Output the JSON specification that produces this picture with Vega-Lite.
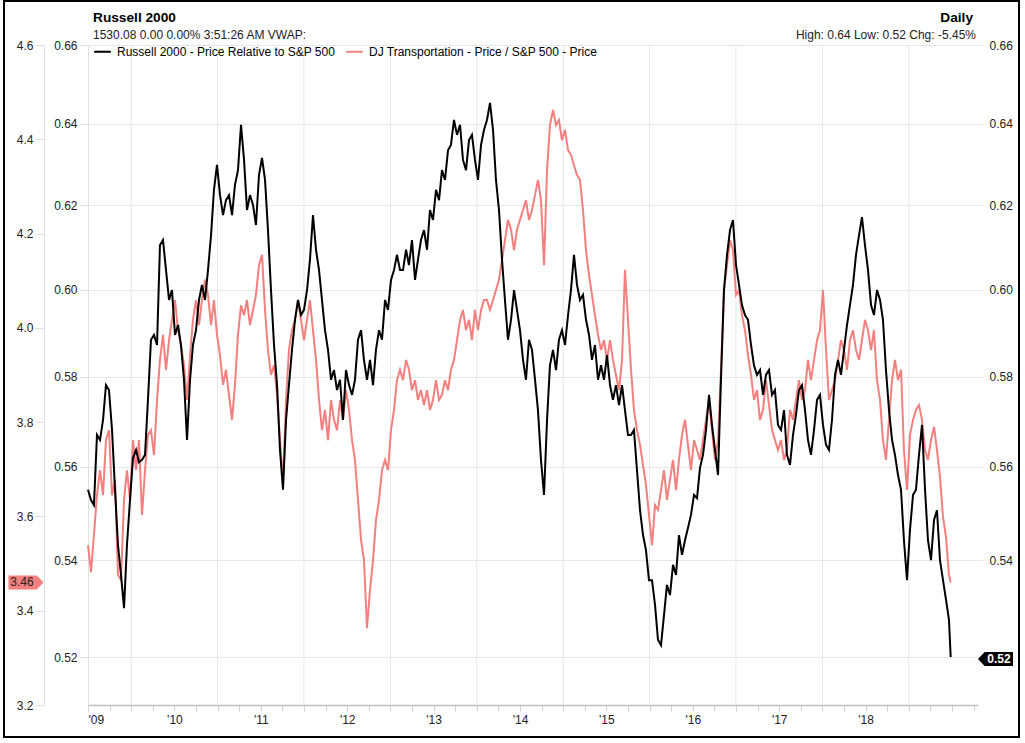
{
"$schema":"https://vega.github.io/schema/vega-lite/v6.json",
"width":890,"height":660,"autosize":"none",
"padding":{"left":88,"top":45,"right":47,"bottom":38},
"background":"white",
"config":{"view":{"stroke":null},"font":"Liberation Sans"},
"datasets":{"d":[
{"t":2009.000,"r":0.5550,"p":3.539},{"t":2009.035,"r":0.5528,"p":3.482},{"t":2009.069,"r":0.5517,"p":3.561},{"t":2009.104,"r":0.5670,"p":3.645},{"t":2009.139,"r":0.5659,"p":3.698},{"t":2009.174,"r":0.5703,"p":3.645},{"t":2009.208,"r":0.5781,"p":3.762},{"t":2009.243,"r":0.5770,"p":3.783},{"t":2009.278,"r":0.5681,"p":3.645},{"t":2009.313,"r":0.5550,"p":3.677},
{"t":2009.347,"r":0.5432,"p":3.476},{"t":2009.382,"r":0.5369,"p":3.465},{"t":2009.417,"r":0.5300,"p":3.635},{"t":2009.451,"r":0.5432,"p":3.698},{"t":2009.486,"r":0.5528,"p":3.635},{"t":2009.521,"r":0.5619,"p":3.762},{"t":2009.556,"r":0.5637,"p":3.698},{"t":2009.590,"r":0.5610,"p":3.762},{"t":2009.625,"r":0.5615,"p":3.603},{"t":2009.660,"r":0.5626,"p":3.698},
{"t":2009.694,"r":0.5748,"p":3.773},{"t":2009.729,"r":0.5884,"p":3.783},{"t":2009.764,"r":0.5895,"p":3.730},{"t":2009.799,"r":0.5872,"p":3.847},{"t":2009.833,"r":0.6105,"p":3.932},{"t":2009.868,"r":0.6117,"p":3.985},{"t":2009.903,"r":0.6046,"p":3.911},{"t":2009.938,"r":0.5976,"p":3.974},{"t":2009.972,"r":0.5999,"p":4.017},{"t":2010.007,"r":0.5895,"p":4.059},
{"t":2010.042,"r":0.5918,"p":3.995},{"t":2010.076,"r":0.5872,"p":3.964},{"t":2010.111,"r":0.5793,"p":3.921},{"t":2010.146,"r":0.5659,"p":3.847},{"t":2010.181,"r":0.5793,"p":3.942},{"t":2010.215,"r":0.5872,"p":4.017},{"t":2010.250,"r":0.5906,"p":4.059},{"t":2010.285,"r":0.5976,"p":4.006},{"t":2010.319,"r":0.6011,"p":4.059},{"t":2010.354,"r":0.5976,"p":4.102},
{"t":2010.389,"r":0.6046,"p":4.070},{"t":2010.424,"r":0.6129,"p":4.006},{"t":2010.458,"r":0.6238,"p":4.059},{"t":2010.493,"r":0.6299,"p":3.985},{"t":2010.528,"r":0.6225,"p":3.942},{"t":2010.563,"r":0.6177,"p":3.879},{"t":2010.597,"r":0.6213,"p":3.911},{"t":2010.632,"r":0.6225,"p":3.858},{"t":2010.667,"r":0.6177,"p":3.805},{"t":2010.701,"r":0.6250,"p":3.879},
{"t":2010.736,"r":0.6286,"p":3.985},{"t":2010.771,"r":0.6398,"p":4.048},{"t":2010.806,"r":0.6311,"p":4.027},{"t":2010.840,"r":0.6189,"p":4.059},{"t":2010.875,"r":0.6225,"p":4.006},{"t":2010.910,"r":0.6201,"p":4.038},{"t":2010.944,"r":0.6153,"p":4.070},{"t":2010.979,"r":0.6274,"p":4.133},{"t":2011.014,"r":0.6316,"p":4.155},{"t":2011.049,"r":0.6262,"p":4.038},
{"t":2011.083,"r":0.6141,"p":3.953},{"t":2011.118,"r":0.5999,"p":3.900},{"t":2011.153,"r":0.5872,"p":3.921},{"t":2011.188,"r":0.5781,"p":3.858},{"t":2011.222,"r":0.5637,"p":3.762},{"t":2011.257,"r":0.5550,"p":3.673},{"t":2011.292,"r":0.5703,"p":3.847},{"t":2011.326,"r":0.5781,"p":3.953},{"t":2011.361,"r":0.5861,"p":3.995},{"t":2011.396,"r":0.5930,"p":4.017},
{"t":2011.431,"r":0.5976,"p":4.059},{"t":2011.465,"r":0.5941,"p":4.017},{"t":2011.500,"r":0.5953,"p":3.974},{"t":2011.535,"r":0.5999,"p":4.017},{"t":2011.569,"r":0.6070,"p":4.059},{"t":2011.604,"r":0.6177,"p":3.995},{"t":2011.639,"r":0.6094,"p":3.932},{"t":2011.674,"r":0.6046,"p":3.847},{"t":2011.708,"r":0.5976,"p":3.783},{"t":2011.743,"r":0.5906,"p":3.826},
{"t":2011.778,"r":0.5861,"p":3.762},{"t":2011.813,"r":0.5793,"p":3.847},{"t":2011.847,"r":0.5815,"p":3.805},{"t":2011.882,"r":0.5770,"p":3.783},{"t":2011.917,"r":0.5793,"p":3.847},{"t":2011.951,"r":0.5703,"p":3.805},{"t":2011.986,"r":0.5815,"p":3.868},{"t":2012.021,"r":0.5781,"p":3.826},{"t":2012.056,"r":0.5759,"p":3.762},{"t":2012.090,"r":0.5793,"p":3.720},
{"t":2012.125,"r":0.5884,"p":3.635},{"t":2012.160,"r":0.5906,"p":3.550},{"t":2012.194,"r":0.5838,"p":3.508},{"t":2012.229,"r":0.5793,"p":3.363},{"t":2012.264,"r":0.5838,"p":3.444},{"t":2012.299,"r":0.5781,"p":3.508},{"t":2012.333,"r":0.5861,"p":3.592},{"t":2012.368,"r":0.5906,"p":3.635},{"t":2012.403,"r":0.5884,"p":3.698},{"t":2012.438,"r":0.5976,"p":3.720},
{"t":2012.472,"r":0.5953,"p":3.698},{"t":2012.507,"r":0.6023,"p":3.783},{"t":2012.542,"r":0.6046,"p":3.826},{"t":2012.576,"r":0.6082,"p":3.889},{"t":2012.611,"r":0.6046,"p":3.911},{"t":2012.646,"r":0.6046,"p":3.889},{"t":2012.681,"r":0.6094,"p":3.932},{"t":2012.715,"r":0.6058,"p":3.911},{"t":2012.750,"r":0.6117,"p":3.868},{"t":2012.785,"r":0.6023,"p":3.889},
{"t":2012.819,"r":0.6070,"p":3.847},{"t":2012.854,"r":0.6117,"p":3.868},{"t":2012.889,"r":0.6141,"p":3.836},{"t":2012.924,"r":0.6094,"p":3.868},{"t":2012.958,"r":0.6189,"p":3.826},{"t":2012.993,"r":0.6165,"p":3.847},{"t":2013.028,"r":0.6238,"p":3.889},{"t":2013.063,"r":0.6213,"p":3.847},{"t":2013.097,"r":0.6286,"p":3.858},{"t":2013.132,"r":0.6262,"p":3.889},
{"t":2013.167,"r":0.6335,"p":3.868},{"t":2013.201,"r":0.6348,"p":3.911},{"t":2013.236,"r":0.6410,"p":3.932},{"t":2013.271,"r":0.6373,"p":3.974},{"t":2013.306,"r":0.6398,"p":4.017},{"t":2013.340,"r":0.6311,"p":4.038},{"t":2013.375,"r":0.6286,"p":3.995},{"t":2013.410,"r":0.6360,"p":4.017},{"t":2013.444,"r":0.6373,"p":3.974},{"t":2013.479,"r":0.6311,"p":4.038},
{"t":2013.514,"r":0.6262,"p":3.995},{"t":2013.549,"r":0.6348,"p":4.038},{"t":2013.583,"r":0.6385,"p":4.059},{"t":2013.618,"r":0.6410,"p":4.059},{"t":2013.653,"r":0.6453,"p":4.038},{"t":2013.688,"r":0.6385,"p":4.059},{"t":2013.722,"r":0.6262,"p":4.080},{"t":2013.757,"r":0.6189,"p":4.102},{"t":2013.792,"r":0.6070,"p":4.144},{"t":2013.826,"r":0.5976,"p":4.186},
{"t":2013.861,"r":0.5884,"p":4.229},{"t":2013.896,"r":0.5930,"p":4.208},{"t":2013.931,"r":0.5999,"p":4.165},{"t":2013.965,"r":0.5953,"p":4.208},{"t":2014.000,"r":0.5906,"p":4.229},{"t":2014.035,"r":0.5838,"p":4.250},{"t":2014.069,"r":0.5793,"p":4.271},{"t":2014.104,"r":0.5884,"p":4.229},{"t":2014.139,"r":0.5861,"p":4.250},{"t":2014.174,"r":0.5793,"p":4.282},
{"t":2014.208,"r":0.5725,"p":4.314},{"t":2014.243,"r":0.5615,"p":4.271},{"t":2014.278,"r":0.5539,"p":4.133},{"t":2014.313,"r":0.5703,"p":4.335},{"t":2014.347,"r":0.5826,"p":4.430},{"t":2014.382,"r":0.5861,"p":4.462},{"t":2014.417,"r":0.5815,"p":4.430},{"t":2014.451,"r":0.5884,"p":4.441},{"t":2014.486,"r":0.5906,"p":4.398},{"t":2014.521,"r":0.5872,"p":4.420},
{"t":2014.556,"r":0.5941,"p":4.377},{"t":2014.590,"r":0.5999,"p":4.367},{"t":2014.625,"r":0.6082,"p":4.345},{"t":2014.660,"r":0.6011,"p":4.324},{"t":2014.694,"r":0.5976,"p":4.314},{"t":2014.729,"r":0.5988,"p":4.250},{"t":2014.764,"r":0.5930,"p":4.165},{"t":2014.799,"r":0.5895,"p":4.112},{"t":2014.833,"r":0.5838,"p":4.070},{"t":2014.868,"r":0.5872,"p":4.027},
{"t":2014.903,"r":0.5793,"p":3.985},{"t":2014.938,"r":0.5826,"p":3.953},{"t":2014.972,"r":0.5793,"p":3.974},{"t":2015.007,"r":0.5849,"p":3.932},{"t":2015.042,"r":0.5781,"p":3.974},{"t":2015.076,"r":0.5748,"p":3.932},{"t":2015.111,"r":0.5781,"p":3.900},{"t":2015.146,"r":0.5736,"p":3.868},{"t":2015.181,"r":0.5781,"p":3.932},{"t":2015.215,"r":0.5725,"p":4.123},
{"t":2015.250,"r":0.5670,"p":4.017},{"t":2015.285,"r":0.5670,"p":3.911},{"t":2015.319,"r":0.5681,"p":3.826},{"t":2015.354,"r":0.5593,"p":3.783},{"t":2015.389,"r":0.5506,"p":3.752},{"t":2015.424,"r":0.5453,"p":3.709},{"t":2015.458,"r":0.5421,"p":3.667},{"t":2015.493,"r":0.5358,"p":3.603},{"t":2015.528,"r":0.5358,"p":3.539},{"t":2015.563,"r":0.5306,"p":3.624},
{"t":2015.597,"r":0.5235,"p":3.614},{"t":2015.632,"r":0.5224,"p":3.656},{"t":2015.667,"r":0.5286,"p":3.698},{"t":2015.701,"r":0.5348,"p":3.635},{"t":2015.736,"r":0.5327,"p":3.677},{"t":2015.771,"r":0.5390,"p":3.720},{"t":2015.806,"r":0.5369,"p":3.656},{"t":2015.840,"r":0.5453,"p":3.720},{"t":2015.875,"r":0.5411,"p":3.773},{"t":2015.910,"r":0.5442,"p":3.805},
{"t":2015.944,"r":0.5468,"p":3.752},{"t":2015.979,"r":0.5496,"p":3.698},{"t":2016.014,"r":0.5539,"p":3.762},{"t":2016.049,"r":0.5532,"p":3.741},{"t":2016.083,"r":0.5597,"p":3.720},{"t":2016.118,"r":0.5626,"p":3.762},{"t":2016.153,"r":0.5681,"p":3.805},{"t":2016.188,"r":0.5759,"p":3.847},{"t":2016.222,"r":0.5692,"p":3.783},{"t":2016.257,"r":0.5637,"p":3.720},
{"t":2016.292,"r":0.5582,"p":3.762},{"t":2016.326,"r":0.5793,"p":3.911},{"t":2016.361,"r":0.5999,"p":4.080},{"t":2016.396,"r":0.6082,"p":4.133},{"t":2016.431,"r":0.6141,"p":4.186},{"t":2016.465,"r":0.6165,"p":4.165},{"t":2016.500,"r":0.6058,"p":4.070},{"t":2016.535,"r":0.6011,"p":4.080},{"t":2016.569,"r":0.5964,"p":4.027},{"t":2016.604,"r":0.5941,"p":3.995},
{"t":2016.639,"r":0.5930,"p":3.942},{"t":2016.674,"r":0.5872,"p":3.900},{"t":2016.708,"r":0.5826,"p":3.847},{"t":2016.743,"r":0.5804,"p":3.868},{"t":2016.778,"r":0.5815,"p":3.805},{"t":2016.813,"r":0.5759,"p":3.826},{"t":2016.847,"r":0.5804,"p":3.889},{"t":2016.882,"r":0.5815,"p":3.836},{"t":2016.917,"r":0.5759,"p":3.783},{"t":2016.951,"r":0.5770,"p":3.762},
{"t":2016.986,"r":0.5692,"p":3.741},{"t":2017.021,"r":0.5681,"p":3.762},{"t":2017.056,"r":0.5725,"p":3.720},{"t":2017.090,"r":0.5626,"p":3.741},{"t":2017.125,"r":0.5604,"p":3.826},{"t":2017.160,"r":0.5670,"p":3.805},{"t":2017.194,"r":0.5714,"p":3.847},{"t":2017.229,"r":0.5770,"p":3.889},{"t":2017.264,"r":0.5781,"p":3.847},{"t":2017.299,"r":0.5725,"p":3.868},
{"t":2017.333,"r":0.5659,"p":3.932},{"t":2017.368,"r":0.5626,"p":3.889},{"t":2017.403,"r":0.5681,"p":3.932},{"t":2017.438,"r":0.5748,"p":3.974},{"t":2017.472,"r":0.5759,"p":3.995},{"t":2017.507,"r":0.5692,"p":4.080},{"t":2017.542,"r":0.5648,"p":3.953},{"t":2017.576,"r":0.5637,"p":3.847},{"t":2017.611,"r":0.5703,"p":3.868},{"t":2017.646,"r":0.5804,"p":3.889},
{"t":2017.681,"r":0.5838,"p":3.932},{"t":2017.715,"r":0.5804,"p":3.974},{"t":2017.750,"r":0.5861,"p":3.953},{"t":2017.785,"r":0.5918,"p":3.911},{"t":2017.819,"r":0.5964,"p":3.974},{"t":2017.854,"r":0.6011,"p":3.995},{"t":2017.889,"r":0.6082,"p":3.953},{"t":2017.924,"r":0.6129,"p":3.932},{"t":2017.958,"r":0.6172,"p":3.974},{"t":2017.993,"r":0.6105,"p":4.017},
{"t":2018.028,"r":0.6046,"p":3.995},{"t":2018.063,"r":0.5964,"p":3.953},{"t":2018.097,"r":0.5941,"p":3.995},{"t":2018.132,"r":0.5999,"p":3.889},{"t":2018.167,"r":0.5976,"p":3.847},{"t":2018.201,"r":0.5930,"p":3.762},{"t":2018.236,"r":0.5815,"p":3.720},{"t":2018.271,"r":0.5725,"p":3.805},{"t":2018.306,"r":0.5659,"p":3.889},{"t":2018.340,"r":0.5626,"p":3.932},
{"t":2018.375,"r":0.5582,"p":3.889},{"t":2018.410,"r":0.5550,"p":3.911},{"t":2018.444,"r":0.5442,"p":3.741},{"t":2018.479,"r":0.5358,"p":3.656},{"t":2018.514,"r":0.5464,"p":3.773},{"t":2018.549,"r":0.5539,"p":3.805},{"t":2018.583,"r":0.5550,"p":3.826},{"t":2018.618,"r":0.5626,"p":3.836},{"t":2018.653,"r":0.5692,"p":3.805},{"t":2018.688,"r":0.5550,"p":3.741},
{"t":2018.722,"r":0.5442,"p":3.720},{"t":2018.757,"r":0.5400,"p":3.762},{"t":2018.792,"r":0.5485,"p":3.790},{"t":2018.826,"r":0.5506,"p":3.741},{"t":2018.861,"r":0.5400,"p":3.684},{"t":2018.896,"r":0.5358,"p":3.599},{"t":2018.931,"r":0.5317,"p":3.556},{"t":2018.965,"r":0.5276,"p":3.476},{"t":2018.985,"r":0.5200,"p":3.460}
]},
"layer":[
{"data":{"values":[{"t":2009.5},{"t":2010.5},{"t":2011.5},{"t":2012.5},{"t":2013.5},{"t":2014.5},{"t":2015.5},{"t":2016.5},{"t":2017.5},{"t":2018.5}]},
 "mark":{"type":"rule","color":"#e6e6e6","strokeWidth":1},
 "encoding":{"x":{"field":"t","type":"quantitative","scale":{"domain":[2009,2019.301],"nice":false,"zero":false},"axis":{"values":[2009,2009.25,2009.5,2009.75,2010,2010.25,2010.5,2010.75,2011,2011.25,2011.5,2011.75,2012,2012.25,2012.5,2012.75,2013,2013.25,2013.5,2013.75,2014,2014.25,2014.5,2014.75,2015,2015.25,2015.5,2015.75,2016,2016.25,2016.5,2016.75,2017,2017.25,2017.5,2017.75,2018,2018.25,2018.5,2018.75,2019,2019.25],"labelExpr":"(datum.value % 1 === 0 && datum.value < 2018.5) ? \"'\" + format(datum.value % 100, '02d') : ''","grid":false,"title":null,"domainColor":"#c0c0c0","domainWidth":1.5,"tickColor":"#d0d0d0","tickSize":6,"labelPadding":3,"labelFlush":true,"labelOverlap":false,"labelFontSize":12,"labelColor":"#222222","labelFont":"Liberation Sans"}}}},
{"data":{"name":"d"},
 "mark":{"type":"line","strokeWidth":2},
 "encoding":{
  "x":{"field":"t","type":"quantitative","scale":{"domain":[2009,2019.301],"nice":false,"zero":false},"axis":{"values":[2009,2009.25,2009.5,2009.75,2010,2010.25,2010.5,2010.75,2011,2011.25,2011.5,2011.75,2012,2012.25,2012.5,2012.75,2013,2013.25,2013.5,2013.75,2014,2014.25,2014.5,2014.75,2015,2015.25,2015.5,2015.75,2016,2016.25,2016.5,2016.75,2017,2017.25,2017.5,2017.75,2018,2018.25,2018.5,2018.75,2019,2019.25],"labelExpr":"(datum.value % 1 === 0 && datum.value < 2018.5) ? \"'\" + format(datum.value % 100, '02d') : ''","grid":false,"title":null,"domainColor":"#c0c0c0","domainWidth":1.5,"tickColor":"#d0d0d0","tickSize":6,"labelPadding":3,"labelFlush":true,"labelOverlap":false,"labelFontSize":12,"labelColor":"#222222","labelFont":"Liberation Sans"}},
  "y":{"field":"p","type":"quantitative","scale":{"domain":[3.2,4.6],"nice":false,"zero":false},"axis":{"orient":"left","offset":44,"values":[3.2,3.4,3.6,3.8,4.0,4.2,4.4,4.6],"format":".1f","grid":false,"title":null,"domainColor":"#e0e0e0","tickColor":"#e0e0e0","tickSize":9,"labelPadding":2,"labelFontSize":12,"labelColor":"#222222","labelFont":"Liberation Sans"}},
  "color":{"datum":"DJ Transportation - Price / S&P 500 - Price","type":"nominal","scale":{"domain":["Russell 2000 - Price Relative to S&P 500","DJ Transportation - Price / S&P 500 - Price"],"range":["#000000","#f47f7f"]},"legend":{"orient":"none","legendX":5,"legendY":-3,"direction":"horizontal","title":null,"symbolType":"stroke","symbolStrokeWidth":2,"symbolSize":280,"labelFontSize":12,"labelColor":"#000000","labelFont":"Liberation Sans","labelLimit":0,"columnPadding":6,"labelOffset":5,"padding":0}}
 }},
{"data":{"name":"d"},
 "mark":{"type":"line","strokeWidth":2},
 "encoding":{
  "x":{"field":"t","type":"quantitative","scale":{"domain":[2009,2019.301],"nice":false,"zero":false},"axis":{"values":[2009,2009.25,2009.5,2009.75,2010,2010.25,2010.5,2010.75,2011,2011.25,2011.5,2011.75,2012,2012.25,2012.5,2012.75,2013,2013.25,2013.5,2013.75,2014,2014.25,2014.5,2014.75,2015,2015.25,2015.5,2015.75,2016,2016.25,2016.5,2016.75,2017,2017.25,2017.5,2017.75,2018,2018.25,2018.5,2018.75,2019,2019.25],"labelExpr":"(datum.value % 1 === 0 && datum.value < 2018.5) ? \"'\" + format(datum.value % 100, '02d') : ''","grid":false,"title":null,"domainColor":"#c0c0c0","domainWidth":1.5,"tickColor":"#d0d0d0","tickSize":6,"labelPadding":3,"labelFlush":true,"labelOverlap":false,"labelFontSize":12,"labelColor":"#222222","labelFont":"Liberation Sans"}},
  "y":{"field":"r","type":"quantitative","scale":{"type":"log","domain":[0.510367,0.66],"nice":false},"axis":{"orient":"right","values":[0.52,0.54,0.56,0.58,0.6,0.62,0.64,0.66],"labelExpr":"datum.value < 0.53 ? '' : format(datum.value, '.2f')","grid":true,"gridColor":"#e6e6e6","domain":false,"tickColor":"#e6e6e6","tickSize":5,"labelPadding":6,"title":null,"labelFontSize":12,"labelColor":"#222222","labelFont":"Liberation Sans"}},
  "color":{"datum":"Russell 2000 - Price Relative to S&P 500","type":"nominal","scale":{"domain":["Russell 2000 - Price Relative to S&P 500","DJ Transportation - Price / S&P 500 - Price"],"range":["#000000","#f47f7f"]},"legend":{"orient":"none","legendX":5,"legendY":-3,"direction":"horizontal","title":null,"symbolType":"stroke","symbolStrokeWidth":2,"symbolSize":280,"labelFontSize":12,"labelColor":"#000000","labelFont":"Liberation Sans","labelLimit":0,"columnPadding":6,"labelOffset":5,"padding":0}}
 }},
{"data":{"values":[{"r":0.52}]},
 "encoding":{"y":{"field":"r","type":"quantitative","scale":{"type":"log","domain":[0.510367,0.66],"nice":false},"axis":{"orient":"left","offset":0,"values":[0.52,0.54,0.56,0.58,0.6,0.62,0.64,0.66],"format":".2f","grid":false,"domainColor":"#e0e0e0","tickColor":"#e0e0e0","tickSize":8,"labelPadding":3,"title":null,"labelFontSize":12,"labelColor":"#222222","labelFont":"Liberation Sans"}}},
 "layer":[
  {"mark":{"type":"point","shape":"M1,-0.4L-0.62,-0.4L-1,0L-0.62,0.4L1,0.4Z","filled":true,"color":"#000000","opacity":1,"size":1225,"strokeWidth":0,"xOffset":17.5,"yOffset":2},"encoding":{"x":{"value":"width"}}},
  {"mark":{"type":"text","fontSize":12,"fontWeight":"bold","color":"#ffffff","dx":21,"dy":2,"baseline":"middle","align":"center","font":"Liberation Sans"},"encoding":{"x":{"value":"width"},"text":{"field":"r","type":"quantitative","format":".2f"}}}
 ]},
{"data":{"values":[{"p":3.46}]},
 "encoding":{"y":{"field":"p","type":"quantitative","scale":{"domain":[3.2,4.6],"nice":false,"zero":false},"axis":null}},
 "layer":[
  {"mark":{"type":"point","shape":"M-1,-0.4L0.62,-0.4L1,0L0.62,0.4L-1,0.4Z","filled":true,"color":"#f47f7f","opacity":1,"size":1225,"strokeWidth":0,"xOffset":-62},"encoding":{"x":{"value":0}}},
  {"mark":{"type":"text","fontSize":12,"color":"#222222","dx":-66,"baseline":"middle","align":"center","font":"Liberation Sans"},"encoding":{"x":{"value":0},"text":{"field":"p","type":"quantitative","format":".2f"}}}
 ]},
{"data":{"values":[{}]},
 "layer":[
  {"mark":{"type":"text","text":"Russell 2000","fontSize":13.7,"fontWeight":"bold","color":"#000000","align":"left","baseline":"alphabetic","font":"Liberation Sans"},"encoding":{"x":{"value":5},"y":{"value":-23}}},
  {"mark":{"type":"text","text":"1530.08 0.00 0.00% 3:51:26 AM VWAP:","fontSize":12,"color":"#222222","align":"left","baseline":"alphabetic","font":"Liberation Sans"},"encoding":{"x":{"value":5},"y":{"value":-6}}},
  {"mark":{"type":"text","text":"Daily","fontSize":13.7,"fontWeight":"bold","color":"#000000","align":"right","baseline":"alphabetic","dx":-5,"font":"Liberation Sans"},"encoding":{"x":{"value":"width"},"y":{"value":-23}}},
  {"mark":{"type":"text","text":"High: 0.64 Low: 0.52 Chg: -5.45%","fontSize":12,"color":"#222222","align":"right","baseline":"alphabetic","dx":-2,"font":"Liberation Sans"},"encoding":{"x":{"value":"width"},"y":{"value":-6}}},
  {"mark":{"type":"rect","fill":null,"stroke":"#000000","strokeWidth":2,"x2Offset":41,"y2Offset":32},"encoding":{"x":{"value":-84},"x2":{"value":"width"},"y":{"value":-44},"y2":{"value":"height"}}}
 ]}
],
"resolve":{"scale":{"y":"independent"},"axis":{"y":"independent"}}
}
